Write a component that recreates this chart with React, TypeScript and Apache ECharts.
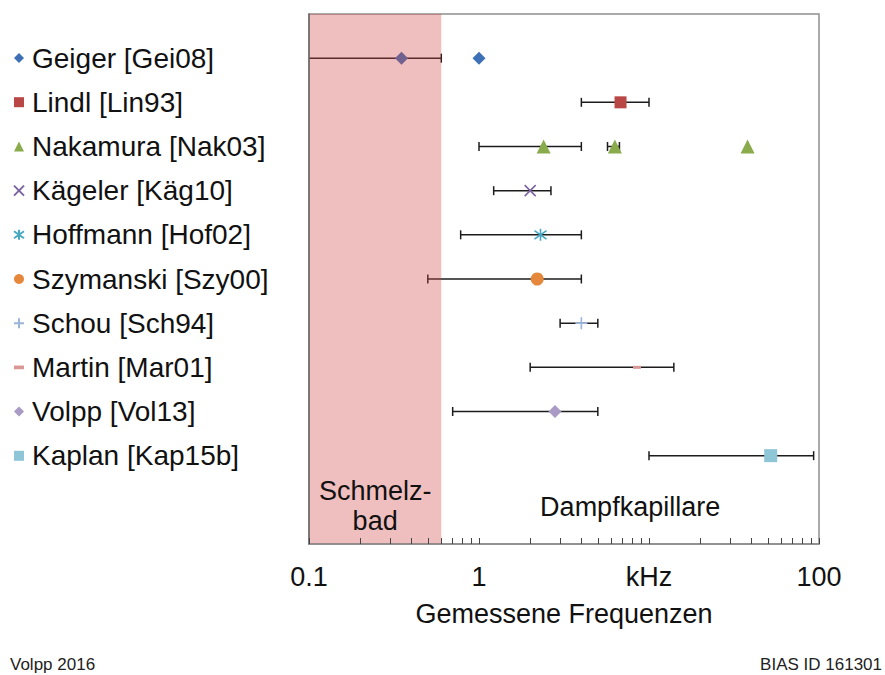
import React, { useEffect, useRef } from 'react';
import * as echarts from 'echarts';

// Studies, one row each (top to bottom)
const studies = [
  'Geiger [Gei08]',
  'Lindl [Lin93]',
  'Nakamura [Nak03]',
  'Kägeler [Käg10]',
  'Hoffmann [Hof02]',
  'Szymanski [Szy00]',
  'Schou [Sch94]',
  'Martin [Mar01]',
  'Volpp [Vol13]',
  'Kaplan [Kap15b]',
];

// Measured frequencies in kHz, one list per study
const frequencies: number[][] = [
  [0.35, 1.0],
  [6.8],
  [2.4, 6.3, 38],
  [2.0],
  [2.3],
  [2.2],
  [4.0],
  [8.5],
  [2.8],
  [52],
];

// Frequency ranges: [study index, lower kHz, upper kHz]
const ranges: [number, number, number][] = [
  [0, 0.05, 0.6],
  [1, 4, 10],
  [2, 1, 4],
  [2, 5.7, 6.7],
  [3, 1.22, 2.65],
  [4, 0.78, 4],
  [5, 0.5, 4],
  [6, 3, 5],
  [7, 2, 14],
  [8, 0.7, 5],
  [9, 10, 93],
];

// Regions along the frequency axis: [from kHz, to kHz, caption]
const regions: [number, number, string][] = [
  [0.1, 0.6, 'Schmelz-\nbad'],
  [0.6, 100, 'Dampfkapillare'],
];

const tickValues = [
  0.1, 0.2, 0.3, 0.4, 0.5, 0.6, 0.7, 0.8, 0.9,
  1, 2, 3, 4, 5, 6, 7, 8, 9,
  10, 20, 30, 40, 50, 60, 70, 80, 90, 100,
];
const labelValues = [0.1, 1, 10, 100];
const unitLabel = 'kHz';

const colors = [
  '#3d70b5', '#b94745', '#8aab4b', '#7d63a1', '#48a8c2',
  '#e6883b', '#9ab5da', '#d99896', '#a99ac6', '#8fc6d7',
];

const CROSS = 'path://M0,0L10,10M10,0L0,10';
const STAR = 'path://M0,1.5L10,8.5M10,1.5L0,8.5M5,0L5,10';
const PLUS = 'path://M5,0L5,10M0,5L10,5';
const DASH = 'path://M0,0L8,0L8,3L0,3Z';

const symbols = ['diamond', 'rect', 'triangle', CROSS, STAR, 'circle', PLUS, 'rect', 'diamond', 'rect'];
const symbolSizes: (number | number[])[] = [13, 12, 14, 11, 12, 13, 12, [8, 3], 13, 13];
const legendIcons = ['diamond', 'rect', 'triangle', CROSS, STAR, 'circle', PLUS, DASH, 'diamond', 'rect'];
const strokeOnly = [false, false, false, true, true, false, true, false, false, false];

const FONT = "'Liberation Sans', Arial, sans-serif";

export default function App() {
  const ref = useRef<HTMLDivElement>(null);

  useEffect(() => {
    if (!ref.current) return;
    const chart = echarts.init(ref.current, null, { renderer: 'svg' });

    const scatterSeries = studies.map((name, i) => ({
      name,
      type: 'scatter',
      z: 3,
      symbol: symbols[i],
      symbolSize: symbolSizes[i],
      itemStyle: strokeOnly[i]
        ? { color: colors[i], borderColor: colors[i], borderWidth: 1.6, opacity: 1 }
        : { color: colors[i], opacity: 1 },
      data: frequencies[i].map((v) => [v, i + 1]),
    }));

    const option: any = {
      animation: false,
      backgroundColor: '#ffffff',
      textStyle: { fontFamily: FONT },
      grid: {
        left: 309,
        right: 66,
        top: 14,
        bottom: 131,
        show: true,
        borderColor: '#8f8f8f',
        borderWidth: 1.5,
      },
      legend: {
        data: studies.map((name, i) => ({ name, icon: legendIcons[i] })),
        orient: 'vertical',
        left: 13,
        top: 43,
        padding: 0,
        itemWidth: 10,
        itemHeight: 10,
        itemGap: 14.2,
        selectedMode: false,
        textStyle: {
          fontSize: 28,
          lineHeight: 30,
          color: '#111',
          fontFamily: FONT,
          padding: [0, 0, 0, 3],
        },
      },
      xAxis: {
        type: 'log',
        logBase: 10,
        min: 0.1,
        max: 100,
        z: 6,
        name: 'Gemessene Frequenzen',
        nameLocation: 'middle',
        nameGap: 56,
        nameTextStyle: { fontSize: 27, color: '#111', fontFamily: FONT },
        axisLine: { show: true, onZero: false, lineStyle: { color: '#8a8a8a', width: 1.5 } },
        axisTick: {
          show: true,
          inside: true,
          length: 6,
          customValues: tickValues,
          lineStyle: { color: '#444', width: 1 },
        },
        axisLabel: {
          show: true,
          customValues: labelValues,
          margin: 19,
          fontSize: 27,
          color: '#111',
          fontFamily: FONT,
          formatter: (v: number) => (Math.abs(v - 10) < 1e-9 ? unitLabel : String(v)),
        },
        splitLine: { show: false },
        minorTick: { show: false },
      },
      yAxis: {
        type: 'value',
        min: 0,
        max: 12,
        inverse: true,
        z: 6,
        axisLine: { show: true, onZero: false, lineStyle: { color: '#6a6a6a', width: 1.5 } },
        axisTick: { show: false },
        axisLabel: { show: false },
        splitLine: { show: false },
      },
      graphic: [
        {
          type: 'text',
          left: 10,
          top: 656,
          style: { text: 'Volpp 2016', font: `17px ${FONT}`, fill: '#222' },
        },
        {
          type: 'text',
          right: 3,
          top: 656,
          style: { text: 'BIAS ID 161301', font: `17px ${FONT}`, fill: '#222' },
        },
      ],
      series: [
        {
          name: 'ranges',
          type: 'custom',
          z: 2,
          clip: true,
          silent: true,
          encode: { x: [1, 2], y: 0 },
          data: ranges.map(([i, lo, hi]) => [i + 1, lo, hi]),
          renderItem: (params: any, api: any) => {
            const row = api.value(0);
            const p1 = api.coord([api.value(1), row]);
            const p2 = api.coord([api.value(2), row]);
            const style = { stroke: '#1c1c1c', lineWidth: 1.5 };
            const cap = 4.5;
            return {
              type: 'group',
              children: [
                { type: 'line', shape: { x1: p1[0], y1: p1[1], x2: p2[0], y2: p2[1] }, style },
                { type: 'line', shape: { x1: p1[0], y1: p1[1] - cap, x2: p1[0], y2: p1[1] + cap }, style },
                { type: 'line', shape: { x1: p2[0], y1: p2[1] - cap, x2: p2[0], y2: p2[1] + cap }, style },
              ],
            };
          },
        },
        ...scatterSeries,
        {
          name: 'regions',
          type: 'custom',
          z: 5,
          silent: true,
          encode: { x: [0, 1] },
          data: regions.map(([lo, hi], k) => [lo, hi, k]),
          renderItem: (params: any, api: any) => {
            const k = api.value(2);
            const topLeft = api.coord([api.value(0), 0]);
            const bottomRight = api.coord([api.value(1), 12]);
            const melt = k === 0;
            return {
              type: 'group',
              children: [
                {
                  type: 'rect',
                  shape: {
                    x: topLeft[0],
                    y: topLeft[1],
                    width: bottomRight[0] - topLeft[0],
                    height: bottomRight[1] - topLeft[1],
                  },
                  style: { fill: melt ? 'rgba(209,69,69,0.35)' : 'rgba(0,0,0,0)' },
                },
                {
                  type: 'text',
                  x: (topLeft[0] + bottomRight[0]) / 2,
                  y: bottomRight[1] - (melt ? 8 : 22),
                  style: {
                    text: regions[k][2],
                    font: `27px ${FONT}`,
                    lineHeight: 30,
                    fill: '#111',
                    align: 'center',
                    verticalAlign: 'bottom',
                  },
                },
              ],
            };
          },
        },
      ],
    };

    chart.setOption(option);
    return () => chart.dispose();
  }, []);

  return (
    <div
      ref={ref}
      style={{ position: 'absolute', left: 0, top: 0, width: 885, height: 675 }}
    />
  );
}
